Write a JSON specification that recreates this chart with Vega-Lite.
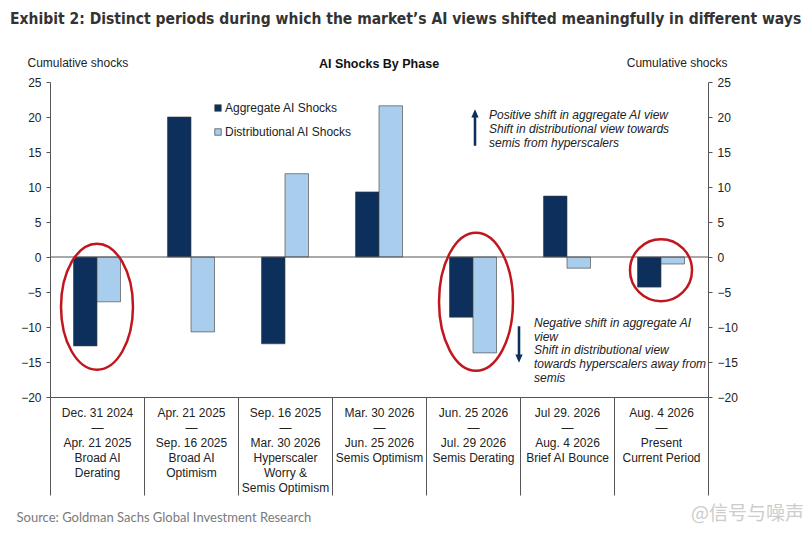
{
  "$schema": "https://vega.github.io/schema/vega-lite/v6.json",
  "background": "white",
  "padding": {"left": 10, "top": 11, "right": 10, "bottom": 0},
  "title": {
    "text": "Exhibit 2: Distinct periods during which the market’s AI views shifted meaningfully in different ways",
    "anchor": "start",
    "frame": "bounds",
    "font": "DejaVu Sans Condensed",
    "fontSize": 15.5,
    "fontWeight": "bold",
    "color": "#333333",
    "dx": -6,
    "offset": 29
  },
  "config": {
    "view": {"stroke": null},
    "font": "Liberation Sans",
    "axis": {"grid": false, "domainColor": "#555555", "tickColor": "#555555", "labelColor": "#222222", "titleColor": "#222222", "labelFontSize": 12, "titleFontSize": 12, "titleFontWeight": "normal"}
  },
  "datasets": {
    "shocks": [
      {"phase": "Dec. 31 2024|—|Apr. 21 2025|Broad AI|Derating", "series": "Aggregate AI Shocks", "value": -12.7},
      {"phase": "Dec. 31 2024|—|Apr. 21 2025|Broad AI|Derating", "series": "Distributional AI Shocks", "value": -6.4},
      {"phase": "Apr. 21 2025|—|Sep. 16 2025|Broad AI|Optimism", "series": "Aggregate AI Shocks", "value": 20.0},
      {"phase": "Apr. 21 2025|—|Sep. 16 2025|Broad AI|Optimism", "series": "Distributional AI Shocks", "value": -10.7},
      {"phase": "Sep. 16 2025|—|Mar. 30 2026|Hyperscaler|Worry &|Semis Optimism", "series": "Aggregate AI Shocks", "value": -12.4},
      {"phase": "Sep. 16 2025|—|Mar. 30 2026|Hyperscaler|Worry &|Semis Optimism", "series": "Distributional AI Shocks", "value": 11.9},
      {"phase": "Mar. 30 2026|—|Jun. 25 2026|Semis Optimism", "series": "Aggregate AI Shocks", "value": 9.3},
      {"phase": "Mar. 30 2026|—|Jun. 25 2026|Semis Optimism", "series": "Distributional AI Shocks", "value": 21.6},
      {"phase": "Jun. 25 2026|—|Jul. 29 2026|Semis Derating", "series": "Aggregate AI Shocks", "value": -8.6},
      {"phase": "Jun. 25 2026|—|Jul. 29 2026|Semis Derating", "series": "Distributional AI Shocks", "value": -13.7},
      {"phase": "Jul 29. 2026|—|Aug. 4 2026|Brief AI Bounce", "series": "Aggregate AI Shocks", "value": 8.7},
      {"phase": "Jul 29. 2026|—|Aug. 4 2026|Brief AI Bounce", "series": "Distributional AI Shocks", "value": -1.6},
      {"phase": "Aug. 4 2026|—|Present|Current Period", "series": "Aggregate AI Shocks", "value": -4.3},
      {"phase": "Aug. 4 2026|—|Present|Current Period", "series": "Distributional AI Shocks", "value": -1.0}
    ]
  },
  "vconcat": [
    {
      "width": 658,
      "height": 315,
      "title": {"text": "AI Shocks By Phase", "anchor": "middle", "frame": "group", "fontSize": 12.5, "fontWeight": "bold", "color": "#111111", "offset": -14},
      "encoding": {
        "x": {
          "field": "phase",
          "type": "nominal",
          "sort": null,
          "scale": {
            "domain": [
              "Dec. 31 2024|—|Apr. 21 2025|Broad AI|Derating",
              "Apr. 21 2025|—|Sep. 16 2025|Broad AI|Optimism",
              "Sep. 16 2025|—|Mar. 30 2026|Hyperscaler|Worry &|Semis Optimism",
              "Mar. 30 2026|—|Jun. 25 2026|Semis Optimism",
              "Jun. 25 2026|—|Jul. 29 2026|Semis Derating",
              "Jul 29. 2026|—|Aug. 4 2026|Brief AI Bounce",
              "Aug. 4 2026|—|Present|Current Period"
            ],
            "paddingInner": 0,
            "paddingOuter": 0
          },
          "axis": {
            "title": "Source: Goldman Sachs Global Investment Research",
            "titleFont": "Lato",
            "titleFontSize": 13,
            "titleColor": "#7a7a7a",
            "titleAlign": "left",
            "titleAnchor": "start",
            "titleBaseline": "middle",
            "titleX": -34,
            "titleY": 120,
            "labelExpr": "split(datum.label, '|')",
            "labelAngle": 0,
            "labelAlign": "center",
            "labelBaseline": "top",
            "labelLineHeight": 15,
            "labelPadding": -88,
            "labelOverlap": false,
            "labelLimit": 200,
            "tickBand": "extent",
            "tickSize": 98
          }
        }
      },
      "layer": [
        {
          "data": {"name": "shocks"},
          "mark": {"type": "bar", "stroke": "#3a3a3a", "strokeWidth": 0.6},
          "encoding": {
            "xOffset": {"field": "series", "type": "nominal", "scale": {"paddingInner": 0, "paddingOuter": 1.14}},
            "y": {
              "field": "value",
              "type": "quantitative",
              "scale": {"domain": [-20, 25], "nice": false, "zero": false},
              "axis": {
                "orient": "left",
                "values": [-20, -15, -10, -5, 0, 5, 10, 15, 20, 25],
                "title": "Cumulative shocks",
                "titleAngle": 0,
                "titleAlign": "left",
                "titleBaseline": "middle",
                "titleX": -23,
                "titleY": -20,
                "tickSize": 4,
                "labelPadding": 5
              }
            },
            "color": {
              "field": "series",
              "type": "nominal",
              "scale": {"domain": ["Aggregate AI Shocks", "Distributional AI Shocks"], "range": ["#0c2f5c", "#a9cdec"]},
              "legend": {
                "title": null,
                "orient": "none",
                "legendX": 162,
                "legendY": 20,
                "padding": 0,
                "symbolType": "square",
                "symbolSize": 42,
                "symbolStrokeColor": "#444444",
                "symbolStrokeWidth": 0.7,
                "labelFontSize": 12,
                "labelColor": "#222222",
                "labelOffset": 1,
                "rowPadding": 12
              }
            }
          }
        },
        {
          "data": {"values": [{"level": 0}]},
          "mark": {"type": "rule", "color": "#555555", "strokeWidth": 1},
          "encoding": {
            "x": null,
            "y": {
              "field": "level",
              "type": "quantitative",
              "scale": {"domain": [-20, 25], "nice": false, "zero": false},
              "axis": {
                "orient": "right",
                "values": [-20, -15, -10, -5, 0, 5, 10, 15, 20, 25],
                "title": "Cumulative shocks",
                "titleAngle": 0,
                "titleAlign": "right",
                "titleBaseline": "middle",
                "titleX": 19,
                "titleY": -20,
                "tickSize": 4,
                "labelPadding": 5
              }
            }
          }
        },
        {
          "data": {"values": [{"phase": "Dec. 31 2024|—|Apr. 21 2025|Broad AI|Derating", "center": -7.1}]},
          "mark": {"type": "point", "shape": "M-0.571,0A0.571,1 0 1,1 0.571,0A0.571,1 0 1,1 -0.571,0Z", "size": 15876, "filled": false, "stroke": "#c0161d", "strokeWidth": 2.5, "opacity": 1},
          "encoding": {"y": {"field": "center", "type": "quantitative", "axis": null}}
        },
        {
          "data": {"values": [{"phase": "Jun. 25 2026|—|Jul. 29 2026|Semis Derating", "center": -6.4}]},
          "mark": {"type": "point", "shape": "M-0.536,0A0.536,1 0 1,1 0.536,0A0.536,1 0 1,1 -0.536,0Z", "size": 19044, "xOffset": 3, "filled": false, "stroke": "#c0161d", "strokeWidth": 2.5, "opacity": 1},
          "encoding": {"y": {"field": "center", "type": "quantitative", "axis": null}}
        },
        {
          "data": {"values": [{"phase": "Aug. 4 2026|—|Present|Current Period", "center": -1.9}]},
          "mark": {"type": "point", "shape": "M-1,0A1,1 0 1,1 1,0A1,1 0 1,1 -1,0Z", "size": 3844, "filled": false, "stroke": "#c0161d", "strokeWidth": 2.5, "opacity": 1},
          "encoding": {"y": {"field": "center", "type": "quantitative", "axis": null}}
        },
        {
          "data": {"values": [{"phase": "Jun. 25 2026|—|Jul. 29 2026|Semis Derating", "mid": 18.5}]},
          "mark": {"type": "point", "shape": "M-0.07,1L0.07,1L0.07,-0.55L0.2,-0.55L0,-1L-0.2,-0.55L-0.07,-0.55Z", "size": 1330, "xOffset": 2, "filled": true, "fill": "#0c2f5c", "strokeWidth": 0, "opacity": 1},
          "encoding": {"y": {"field": "mid", "type": "quantitative", "axis": null}}
        },
        {
          "data": {"values": [{"phase": "Jun. 25 2026|—|Jul. 29 2026|Semis Derating", "mid": -12.5}]},
          "mark": {"type": "point", "shape": "M-0.07,-1L0.07,-1L0.07,0.55L0.2,0.55L0,1L-0.2,0.55L-0.07,0.55Z", "size": 1330, "xOffset": 46, "filled": true, "fill": "#0c2f5c", "strokeWidth": 0, "opacity": 1},
          "encoding": {"y": {"field": "mid", "type": "quantitative", "axis": null}}
        },
        {
          "data": {"values": [
            {"phase": "Jun. 25 2026|—|Jul. 29 2026|Semis Derating", "pos": 20.3, "note": "Positive shift  in aggregate AI view\nShift in distributional view towards\nsemis from hyperscalers"}
          ]},
          "mark": {"type": "text", "align": "left", "baseline": "middle", "dx": 16, "lineBreak": "\n", "lineHeight": 14, "fontSize": 12, "fontStyle": "italic", "color": "#222222"},
          "encoding": {"y": {"field": "pos", "type": "quantitative", "axis": null}, "text": {"field": "note"}}
        },
        {
          "data": {"values": [
            {"phase": "Jul 29. 2026|—|Aug. 4 2026|Brief AI Bounce", "pos": -9.4, "note": "Negative shift in aggregate AI\nview\nShift in distributional view\ntowards hyperscalers away from\nsemis"}
          ]},
          "mark": {"type": "text", "align": "left", "baseline": "middle", "dx": -33, "lineBreak": "\n", "lineHeight": 13.8, "fontSize": 12, "fontStyle": "italic", "color": "#222222"},
          "encoding": {"y": {"field": "pos", "type": "quantitative", "axis": null}, "text": {"field": "note"}}
        },
        {
          "data": {"values": [{"phase": "Aug. 4 2026|—|Present|Current Period", "pos": -36.7, "mark": "@信号与噪声"}]},
          "mark": {"type": "text", "align": "left", "baseline": "middle", "dx": 30, "font": "Noto Sans CJK SC", "fontSize": 19, "color": "#cccccc", "clip": false},
          "encoding": {"y": {"field": "pos", "type": "quantitative", "axis": null}, "text": {"field": "mark"}}
        }
      ],
      "resolve": {"scale": {"y": "shared"}, "axis": {"y": "independent"}}
    }
  ]
}
